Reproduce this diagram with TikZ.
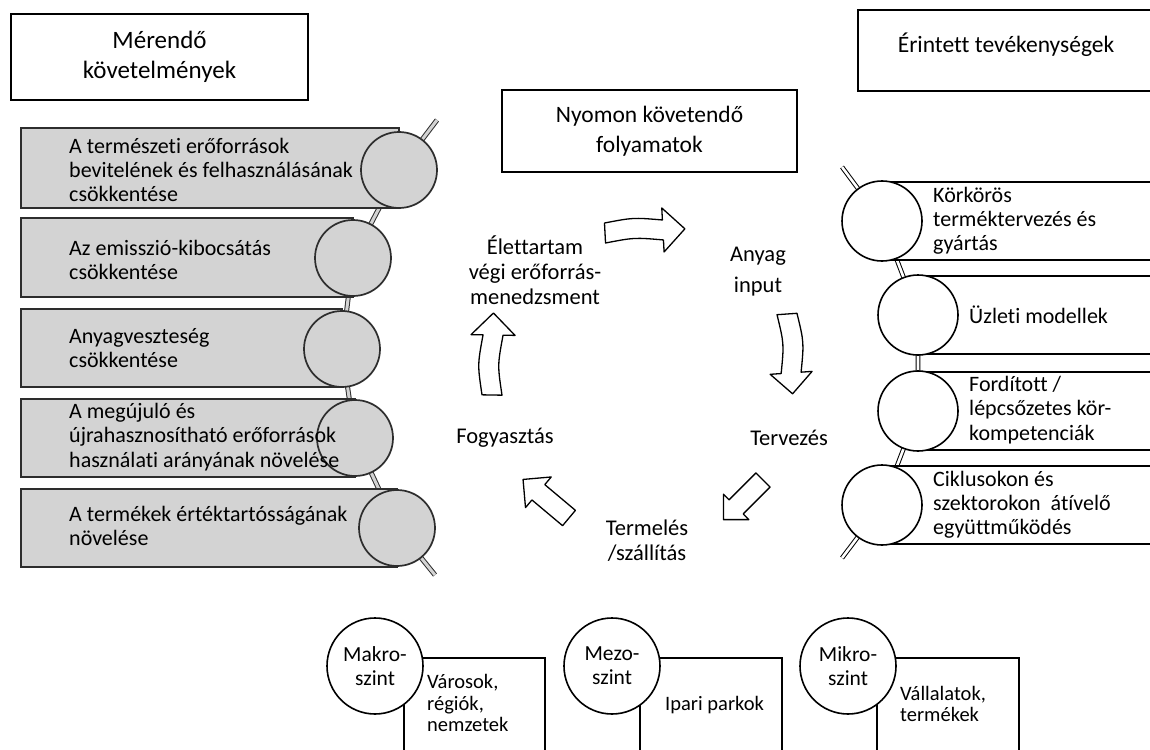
\documentclass[tikz,border=0pt]{standalone}
\usepackage{fontspec}
\setmainfont{Carlito}[Ligatures=NoCommon]
\definecolor{barfill}{RGB}{211,211,211}
\definecolor{barline}{RGB}{45,45,45}
\tikzset{
  hdrbox/.style={draw=black, line width=1.7pt, inner sep=0pt, align=center,
    font=\fontsize{23.5}{30}\selectfont},
  hdrtxt/.style={inner sep=0pt, font=\fontsize{23.5}{30}\selectfont},
  bar/.style={draw=barline, line width=1.7pt, fill=barfill},
  lcirc/.style={circle, draw=barline, line width=1.7pt, fill=barfill, minimum size=76pt, inner sep=0pt},
  rcirc/.style={circle, draw=black, line width=1.6pt, fill=white, minimum size=80pt, inner sep=0pt},
  rbox/.style={draw=black, line width=1.6pt, fill=white},
  bodytxt/.style={inner sep=0pt, anchor=west, align=left, font=\fontsize{22}{24.2}\selectfont},
  midtxt/.style={inner sep=0pt, align=center, font=\fontsize{22.5}{25}\selectfont},
  lrod/.style={draw=barline, line width=1pt, double=barfill, double distance=3pt},
  rrod/.style={draw=black, line width=1pt, double=white, double distance=2.6pt},
  cyc/.style={draw=black, line width=1.3pt, fill=white, line join=round},
  bcirc/.style={circle, draw=black, line width=1.6pt, fill=white, minimum size=96pt, inner sep=0pt,
    align=center, font=\fontsize{21.5}{24}\selectfont},
  bbox/.style={draw=black, line width=1.6pt},
  btxt/.style={inner sep=0pt, anchor=west, align=left, font=\fontsize{20.5}{21.5}\selectfont}
}
% block arrow: tail x, tail y, angle, length, head half-width, outward bow
\newcommand\cycarrow[6]{%
  \begin{scope}[shift={(#1,#2)}, rotate=#3]
    \draw[cyc] (0,-10) .. controls ({(#4-#5)/2},{-10-2*#6}) .. (#4-#5,-10) -- (#4-#5,-#5) -- (#4,0)
      -- (#4-#5,#5) -- (#4-#5,10) .. controls ({(#4-#5)/2},{10-2*#6}) .. (0,10) -- cycle;
  \end{scope}}
\begin{document}
\begin{tikzpicture}[x=1pt,y=-1pt]
\useasboundingbox (0,0) rectangle (1150,749);
\clip (0,0) rectangle (1150,749);

% ---------- headers ----------
\node[hdrbox, minimum width=297pt, minimum height=86pt, font=\fontsize{25}{30}\selectfont] (mk) at (159.5,57) {Mérendő\\követelmények};
\node[hdrbox, minimum width=295pt, minimum height=82pt] (ny) at (649.5,131) {Nyomon követendő\\folyamatok};
\node[hdrbox, minimum width=297pt, minimum height=81pt] (et) at (1006.5,50.5) {};
\node[hdrtxt] (ett) at (1006,45) {Érintett tevékenységek};

% ---------- left column ----------
\coordinate (ltop) at (437,120);
\coordinate (lbot) at (435,575);
\coordinate (c1) at (399,170);
\coordinate (c2) at (353,258);
\coordinate (c3) at (342,349);
\coordinate (c4) at (355,438);
\coordinate (c5) at (397,528);
\draw[lrod] (ltop) -- (c1) -- (c2) -- (c3) -- (c4) -- (c5) -- (lbot);

\draw[bar] (21,128) rectangle (399,208);
\draw[bar] (21,218) rectangle (353,297);
\draw[bar] (21,309) rectangle (342,387);
\draw[bar] (21,399) rectangle (355,477);
\draw[bar] (21,489) rectangle (397,567);

\node[lcirc] (lc1) at (c1) {};
\node[lcirc] (lc2) at (c2) {};
\node[lcirc] (lc3) at (c3) {};
\node[lcirc] (lc4) at (c4) {};
\node[lcirc] (lc5) at (c5) {};

\node[bodytxt] (t1) at (69,170) {A természeti erőforrások\\bevitelének és felhasználásának\\csökkentése};
\node[bodytxt] (t2) at (69,260) {Az emisszió-kibocsátás\\csökkentése};
\node[bodytxt] (t3) at (69,348) {Anyagveszteség\\csökkentése};
\node[bodytxt] (t4) at (69,437) {A megújuló és\\újrahasznosítható erőforrások\\használati arányának növelése};
\node[bodytxt] (t5) at (69,526) {A termékek értéktartósságának\\növelése};

% ---------- right column ----------
\coordinate (rtop) at (842,167);
\coordinate (rbot) at (842,558);
\coordinate (r1) at (882,221);
\coordinate (r2) at (918,315);
\coordinate (r3) at (918,411);
\coordinate (r4) at (882,505);
\draw[rrod] (rtop) -- (r1) -- (r2) -- (r3) -- (r4) -- (rbot);

\draw[rbox] (882,182) rectangle (1175,260);
\draw[rbox] (918,276) rectangle (1175,354);
\draw[rbox] (918,372) rectangle (1175,450);
\draw[rbox] (882,466) rectangle (1175,544);

\node[rcirc] (rc1) at (r1) {};
\node[rcirc] (rc2) at (r2) {};
\node[rcirc] (rc3) at (r3) {};
\node[rcirc] (rc4) at (r4) {};

\node[bodytxt] (s1) at (933,221) {Körkörös\\terméktervezés és\\gyártás};
\node[bodytxt] (s2) at (969,315) {Üzleti modellek};
\node[bodytxt] (s3) at (969,410) {Fordított /\\lépcsőzetes kör-\\kompetenciák};
\node[bodytxt] (s4) at (933,505) {Ciklusokon és\\szektorokon~ átívelő\\együttműködés};

% ---------- cycle ----------
\node[midtxt] (p1) at (535,270) {Élettartam\\végi erőforrás-\\menedzsment};
\node[midtxt] (p2) at (758,272) {Anyag\\[6pt]input};
\node[midtxt] (p3) at (789,438) {Tervezés};
\node[midtxt] (p4) at (647,541) {Termelés\\/szállítás};
\node[midtxt] (p5) at (505,438) {Fogyasztás};

\cycarrow{605}{233}{3}{80}{22}{2}
\cycarrow{787}{314}{-86}{80}{21}{2.5}
\cycarrow{763}{480}{-135}{56}{18}{0}
\cycarrow{569}{518}{140}{60}{20}{0}
\cycarrow{492}{395}{89}{82}{22}{2.5}

% ---------- bottom ----------
\draw[bbox] (404,658) rectangle (545,770);
\draw[bbox] (640,658) rectangle (782,770);
\draw[bbox] (877,658) rectangle (1019,770);
\node[bcirc] (bm1) at (375,666) {Makro-\\szint};
\node[bcirc] (bm2) at (612,666) {Mezo-\\szint};
\node[bcirc] (bm3) at (848,666) {Mikro-\\szint};
\node[btxt] (bt1) at (427,703) {Városok,\\régiók,\\nemzetek};
\node[btxt] (bt2) at (665,705) {Ipari parkok};
\node[btxt] (bt3) at (900,704) {Vállalatok,\\termékek};
\end{tikzpicture}
\end{document}
